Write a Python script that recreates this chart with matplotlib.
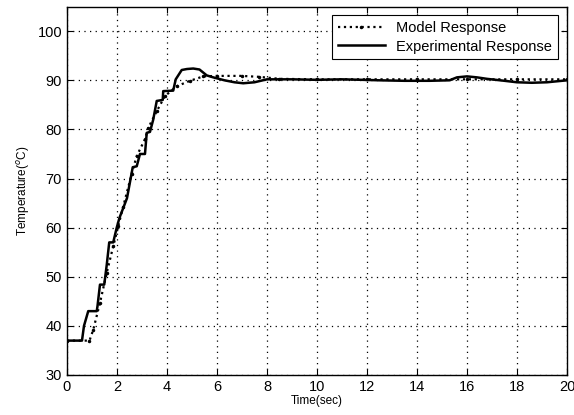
import matplotlib
matplotlib.use("Agg")
import matplotlib.pyplot as plt

# experimental response (stepwise measured temperature)
t_exp = [0, 0.6, 0.68, 0.85, 1.19, 1.22, 1.32, 1.49, 1.59, 1.69, 1.85, 1.99, 2.1, 2.25,
         2.4, 2.63, 2.79, 2.92, 3.12, 3.19, 3.32, 3.45, 3.59, 3.83, 3.85, 4.25, 4.35,
         4.59, 4.8, 5.05, 5.3, 5.59, 5.85, 6.3, 6.7, 7.05, 7.5, 8.0, 9.0, 10.0, 11.0,
         11.8, 12.5, 13.5, 14.5, 15.3, 15.6, 16.0, 16.4, 16.8, 17.5, 18.0, 18.6, 19.2, 20]
y_exp = [37, 37, 40, 43, 43, 44, 48.4, 48.4, 52.4, 57, 57, 60, 62, 64,
         66, 72.3, 72.5, 75, 75, 79.3, 79.5, 82, 85.8, 86, 87.8, 87.9, 90.2,
         92.1, 92.3, 92.4, 92.2, 91.0, 90.6, 90.0, 89.6, 89.4, 89.6, 90.2, 90.2, 90.1, 90.2,
         90.1, 90.0, 89.9, 89.9, 90.0, 90.6, 90.8, 90.6, 90.3, 89.9, 89.6, 89.5, 89.6, 90.0]

# model response
t_mod = [0, 0.9, 1.05, 1.32, 1.59, 1.85, 2.05, 2.25, 2.59, 2.79, 3.12, 3.25, 3.59,
         3.92, 4.39, 4.92, 5.45, 6.0, 7.0, 7.7, 8.5, 10, 12, 14, 16, 18, 20]
y_mod = [37, 37, 39.2, 44.7, 50.8, 56.2, 60.3, 64.3, 71.0, 74.6, 78.0, 80.3, 83.7,
         86.8, 88.8, 89.9, 90.8, 90.9, 90.9, 90.7, 90.3, 90.2, 90.2, 90.2, 90.2, 90.2, 90.2]

x_ticks = list(range(0, 21, 2))
y_ticks = list(range(30, 101, 10))

plt.rcParams["font.family"] = ["Liberation Sans", "DejaVu Sans"]

fig = plt.figure(figsize=(5.74, 4.15), dpi=100)
ax = fig.add_axes([0.1167, 0.0964, 0.871, 0.8876])

ax.plot(t_mod, y_mod, ":", color="black", lw=1.6, marker=".", ms=3,
        label="Model Response")
ax.plot(t_exp, y_exp, "-", color="black", lw=1.8, label="Experimental Response")

ax.set_xlim(0, 20)
ax.set_ylim(30, 105)
ax.set_xticks(x_ticks)
ax.set_yticks(y_ticks)
ax.tick_params(direction="in", labelsize=10.5, length=4, width=0.8, top=True, right=True)
ax.grid(True, color="black", ls=(0, (1, 3.5)), lw=0.9)
for s in ax.spines.values():
    s.set_linewidth(1.0)

ax.set_xlabel("Time(sec)", fontsize=8.5, labelpad=1)
ax.set_ylabel("Temperature($^o$C)", fontsize=8.5, labelpad=4)

leg = ax.legend(loc="upper right", fontsize=10.5, handlelength=3.2, numpoints=1,
                fancybox=False, framealpha=1, edgecolor="black",
                borderaxespad=0.6, labelspacing=0.3)
leg.get_frame().set_linewidth(0.8)

fig.savefig("out.png", dpi=100)
